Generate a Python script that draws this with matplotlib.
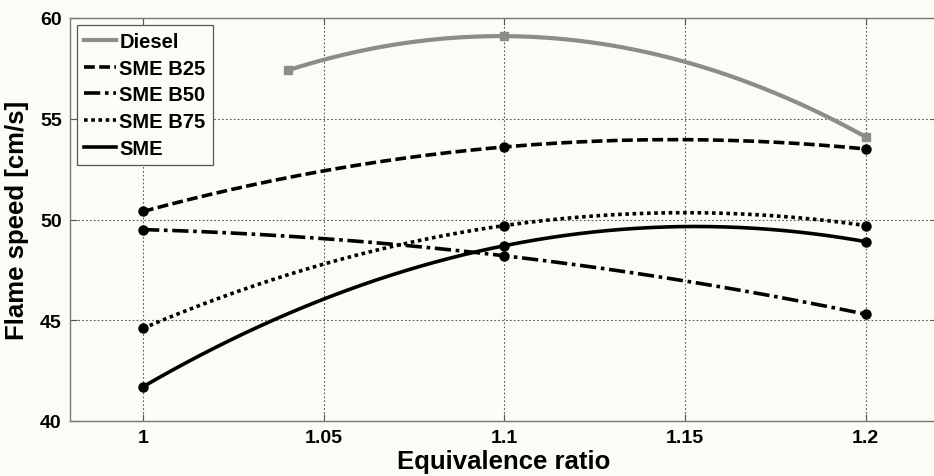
import numpy as np
import matplotlib
matplotlib.use("Agg")
import matplotlib.pyplot as plt

plt.rcParams['font.family'] = ['Liberation Sans', 'DejaVu Sans']
plt.rcParams['font.weight'] = 'bold'

# Data
diesel_x = [1.04, 1.1, 1.2]
diesel_y = [57.4, 59.1, 54.1]

phi = [1.0, 1.1, 1.2]
b25 = [50.4, 53.6, 53.5]
b50 = [49.5, 48.2, 45.3]
b75 = [44.6, 49.7, 49.7]
sme = [41.7, 48.7, 48.9]

bg = '#fcfcf7'
fig = plt.figure(figsize=(9.34, 4.77), dpi=100, facecolor=bg)
ax = fig.add_axes([70 / 934, 1 - 422 / 477, 868 / 934, 403 / 477], facecolor=bg)


def smooth(xs, ys):
    # quadratic fit through the measured points, like the original curves
    c = np.polyfit(xs, ys, 2)
    xx = np.linspace(min(xs), max(xs), 200)
    return xx, np.polyval(c, xx)


lw = 2.6
xx, yy = smooth(diesel_x, diesel_y)
ax.plot(xx, yy, color='#8c8c8c', lw=lw + 0.4, label='Diesel')
ax.plot(diesel_x, diesel_y, 's', color='#8c8c8c', ms=5.5, label='_nolegend_')

styles = [
    ('SME B25', b25, (3.0, 1.2)),
    ('SME B50', b50, (4.5, 1.3, 1.0, 1.3)),
    ('SME B75', b75, (1.0, 1.0)),
    ('SME', sme, None),
]
for name, vals, dashes in styles:
    xx, yy = smooth(phi, vals)
    if dashes is None:
        ax.plot(xx, yy, color='black', lw=lw, label=name)
    else:
        ax.plot(xx, yy, color='black', lw=lw, dashes=dashes, label=name,
                dash_capstyle='butt')
    ax.plot(phi, vals, 'o', color='black', ms=6.5, label='_nolegend_')

ax.set_xlim(0.9798, 1.22)
ax.set_ylim(40, 60)
ax.set_xticks([1, 1.05, 1.1, 1.15, 1.2])
ax.set_xticklabels(['1', '1.05', '1.1', '1.15', '1.2'])
ax.set_yticks([40, 45, 50, 55, 60])
ax.grid(True, linestyle=(0, (1.5, 2.0)), color='#555555', lw=0.8)
ax.tick_params(direction='in', length=5, width=0.8, color='#555555',
               labelsize=14, top=True, right=True, pad=6)
for s in ax.spines.values():
    s.set_color('#777777')
    s.set_linewidth(1.0)

ax.set_xlabel('Equivalence ratio', fontsize=18.5, fontweight='bold', labelpad=2)
ax.set_ylabel('Flame speed [cm/s]', fontsize=18.5, fontweight='bold', labelpad=8)

leg = ax.legend(loc='upper left', fontsize=14.5, handlelength=1.6,
                handletextpad=0.15, labelspacing=0.38, borderpad=0.35,
                borderaxespad=0.35, fancybox=False, framealpha=1,
                edgecolor='#555555', facecolor=bg)
leg.get_frame().set_linewidth(0.9)
for t in leg.get_texts():
    t.set_fontweight('bold')

fig.savefig('out.png', dpi=100, facecolor=bg)
